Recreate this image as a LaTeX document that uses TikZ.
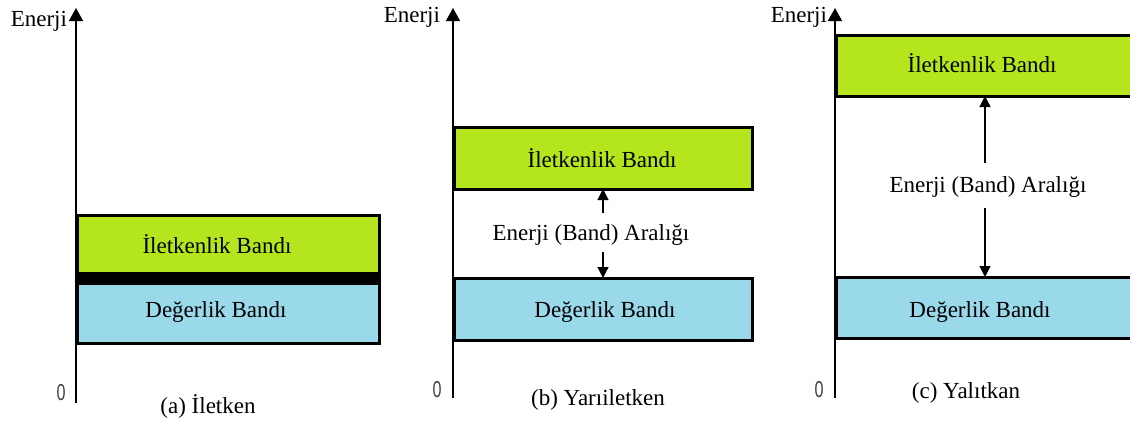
\documentclass[tikz,border=0pt]{standalone}
\usepackage{fontspec}
\usepackage{graphicx}
\setmainfont{Liberation Serif}
\newfontfamily\digitfont{Liberation Sans}
\usetikzlibrary{arrows.meta}
\definecolor{condgreen}{RGB}{181,230,29}
\definecolor{valblue}{RGB}{153,217,234}

\begin{document}
\begin{tikzpicture}[x=1pt,y=-1pt,
  every node/.style={inner sep=0pt, outer sep=0pt, font=\fontsize{23}{27}\selectfont},
  band/.style={draw=black, line width=3pt, inner sep=0pt},
  condband/.style={band, fill=condgreen},
  valband/.style={band, fill=valblue},
  overlapstrip/.style={fill=black, inner sep=0pt},
  axisline/.style={line width=1.4pt, -{Triangle[width=14pt,length=13pt]}},
  gaparrow/.style={line width=1.2pt, -{Triangle[width=11pt,length=11pt]}},
  zero/.style={font=\digitfont\fontsize{23}{27}\selectfont, text=black!75},
  axislabel/.style={anchor=base east},
  textlabel/.style={anchor=base}
]
\useasboundingbox (0,0) rectangle (1130,423);
\clip (0,0) rectangle (1130,423);

% ---------- (a) conductor ----------
\coordinate (a0) at (76,403);
\coordinate (a1) at (76,8);
\draw[axisline] (a0) -- (a1);
\node[axislabel] (ea) at (67,26) {Enerji};
\node[zero] (za) at (61,393) {\scalebox{0.7}[1]{0}};
\node[condband, minimum width=302pt, minimum height=58pt] (cba) at (228,244) {};
\node[valband, minimum width=302pt, minimum height=60pt] (vba) at (228,313) {};
\node[overlapstrip, minimum width=305pt, minimum height=9pt] (ova) at (228,278) {};
\node[textlabel] (tca) at (217,253) {İletkenlik Bandı};
\node[textlabel] (tva) at (216,317) {Değerlik Bandı};
\node[textlabel] (capa) at (208,413) {(a) İletken};

% ---------- (b) semiconductor ----------
\coordinate (b0) at (453,398);
\coordinate (b1) at (453,8);
\draw[axisline] (b0) -- (b1);
\node[axislabel] (eb) at (440,23) {Enerji};
\node[zero] (zb) at (437,390) {\scalebox{0.7}[1]{0}};
\node[condband, minimum width=298pt, minimum height=62pt] (cbb) at (603,158) {};
\node[valband, minimum width=298pt, minimum height=62pt] (vbb) at (603,309) {};
\node[textlabel] (tcb) at (602,167) {İletkenlik Bandı};
\node[textlabel] (tvb) at (605,317) {Değerlik Bandı};
\node[textlabel] (gb) at (591,240) {Enerji (Band) Aralığı};
\coordinate (gbt) at (603,213);
\coordinate (gbb) at (603,252);
\draw[gaparrow] (gbt) -- (gbt |- cbb.south);
\draw[gaparrow] (gbb) -- (gbb |- vbb.north);
\node[textlabel] (capb) at (598,405) {(b) Yarıiletken};

% ---------- (c) insulator ----------
\coordinate (c0) at (835,398);
\coordinate (c1) at (835,8);
\draw[axisline] (c0) -- (c1);
\node[axislabel] (ec) at (827,22) {Enerji};
\node[zero] (zc) at (819,390) {\scalebox{0.7}[1]{0}};
\node[condband, minimum width=304pt, minimum height=61pt] (cbc) at (988,65.5) {};
\node[valband, minimum width=304pt, minimum height=61pt] (vbc) at (988,307.5) {};
\node[textlabel] (tcc) at (982,72) {İletkenlik Bandı};
\node[textlabel] (tvc) at (980,317) {Değerlik Bandı};
\node[textlabel] (gc) at (988,192) {Enerji (Band) Aralığı};
\coordinate (gct) at (985,163);
\coordinate (gcb) at (985,208);
\draw[gaparrow] (gct) -- (gct |- cbc.south);
\draw[gaparrow] (gcb) -- (gcb |- vbc.north);
\node[textlabel] (capc) at (966,398) {(c) Yalıtkan};
\end{tikzpicture}
\end{document}
